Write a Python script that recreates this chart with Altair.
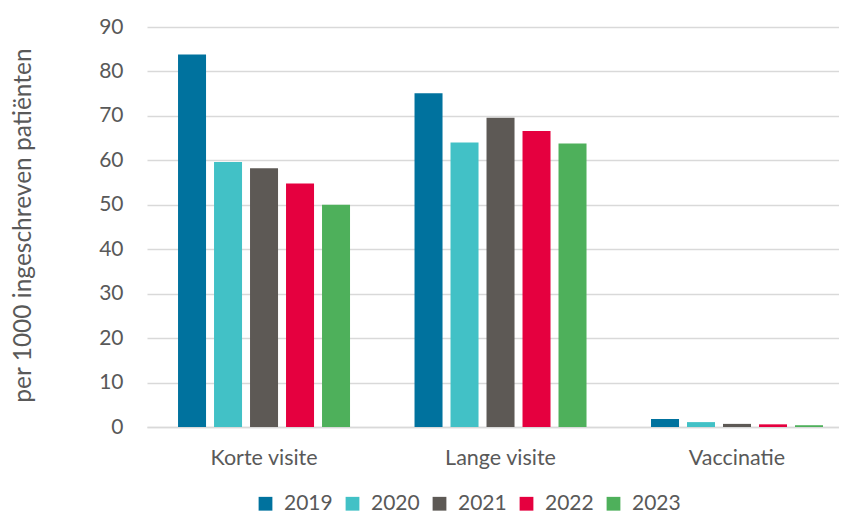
import altair as alt
import pandas as pd

categories = ["Korte visite", "Lange visite", "Vaccinatie"]
years = ["2019", "2020", "2021", "2022", "2023"]
values_2019 = [83.8, 75.1, 1.8]
values_2020 = [59.6, 64.0, 1.1]
values_2021 = [58.2, 69.6, 0.7]
values_2022 = [54.8, 66.6, 0.6]
values_2023 = [50.0, 63.8, 0.4]
colors = ["#00729E", "#42C1C6", "#5D5955", "#E5003F", "#4EB05B"]

series = [values_2019, values_2020, values_2021, values_2022, values_2023]
rows = []
for y, vals in zip(years, series):
    for c, v in zip(categories, vals):
        rows.append({"categorie": c, "jaar": y, "waarde": v})
df = pd.DataFrame(rows)

FONT = "Lato"
TXT = "#595959"

chart = (
    alt.Chart(df)
    .mark_bar()
    .encode(
        x=alt.X(
            "categorie:N",
            sort=categories,
            title=None,
            scale=alt.Scale(paddingInner=0.2727, paddingOuter=0.0994, align=0.66),
            axis=alt.Axis(
                labelAngle=0,
                labelFont=FONT,
                labelFontSize=21.5,
                labelColor=TXT,
                labelPadding=20,
                ticks=False,
                tickSize=0,
                domainColor="#d9d9d9",
                domainWidth=1.5,
                grid=False,
            ),
        ),
        xOffset=alt.XOffset(
            "jaar:N", sort=years, scale=alt.Scale(paddingInner=0.222, paddingOuter=0)
        ),
        y=alt.Y(
            "waarde:Q",
            scale=alt.Scale(domain=[0, 90], nice=False),
            title="per 1000 ingeschreven patiënten",
            axis=alt.Axis(
                values=list(range(0, 91, 10)),
                labelFont=FONT,
                labelFontSize=21,
                labelColor=TXT,
                labelPadding=24,
                ticks=False,
                tickSize=0,
                domain=False,
                gridColor="#d9d9d9",
                gridWidth=1.5,
                titleFont=FONT,
                titleFontSize=24.5,
                titleFontWeight="normal",
                titleColor=TXT,
                titleX=-124,
                titleY=198,
                titleBaseline="middle",
                titleAlign="center",
            ),
        ),
        color=alt.Color(
            "jaar:N",
            sort=years,
            scale=alt.Scale(domain=years, range=colors),
            legend=alt.Legend(
                title=None,
                orient="none",
                direction="horizontal",
                legendX=108,
                legendY=466,
                symbolType="square",
                symbolSize=190,
                symbolStrokeWidth=0,
                labelFont=FONT,
                labelFontSize=21,
                labelColor=TXT,
                labelOffset=8,
                columnPadding=9,
                padding=0,
            ),
        ),
    )
    .properties(
        width=692,
        height=400,
        autosize=alt.AutoSizeParams(type="none"),
        padding={"left": 139, "top": 19, "right": 0, "bottom": 100},
    )
    .configure_view(stroke=None)
)

chart.save("out.html", embed_options={"renderer": "svg", "actions": False})
